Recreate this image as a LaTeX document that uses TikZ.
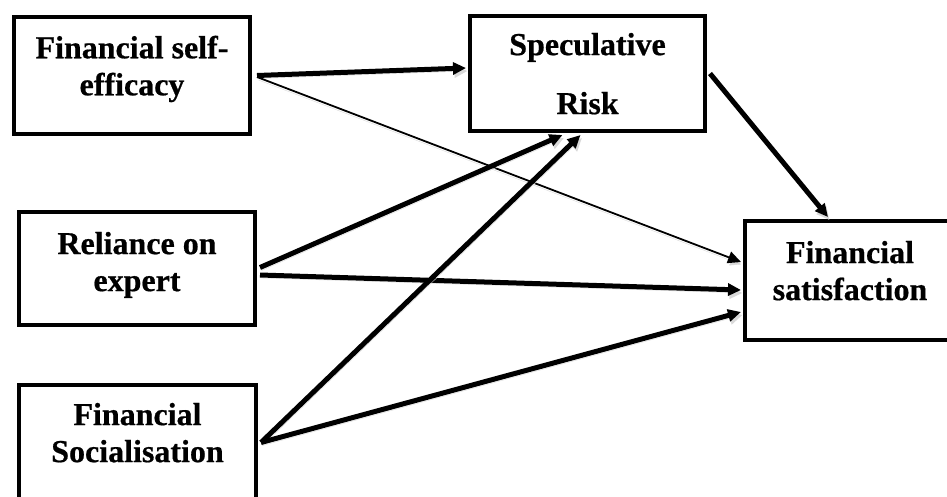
\documentclass[tikz,border=0pt]{standalone}
\usepackage{fontspec}
\setmainfont{Liberation Serif}[BoldFeatures={FakeBold=0.6}]
\usetikzlibrary{arrows.meta}

\begin{document}
\begin{tikzpicture}[x=1pt, y=-1pt,
  factor/.style={draw, line width=4pt, align=center, inner sep=0pt, text depth=20pt,
    font=\bfseries\fontsize{32}{37}\selectfont},
  link/.style={-{Triangle[length=13pt,width=12pt]}, line width=5pt,
    preaction={draw=black!15, transform canvas={shift={(1.5pt,-3pt)}}}},
  weak link/.style={link, line width=1.8pt}]
  \useasboundingbox (0,0) rectangle (947,496);
  \clip (0,0) rectangle (947,496);

  \node[factor, minimum width=236pt, minimum height=117pt] (efficacy) at (132,75.5) {Financial self-\\efficacy};
  \node[factor, minimum width=235pt, minimum height=115pt, text depth=-4pt] (risk) at (587.5,73.5) {Speculative\\[22pt]Risk};
  \node[factor, minimum width=236pt, minimum height=113pt, text depth=14pt] (reliance) at (137,268.5) {Reliance on\\expert};
  \node[factor, minimum width=210pt, minimum height=119pt] (satisf) at (850,280.5) {Financial\\satisfaction};
  \node[factor, minimum width=237pt, minimum height=115pt] (social) at (137.5,442.5) {Financial\\Socialisation};

  \draw[link] ([xshift=5pt]efficacy.east) -- ([xshift=-2pt,yshift=5.5pt]risk.west);
  \draw[weak link] ([xshift=5pt,yshift=-1.5pt]efficacy.east) -- ([xshift=-2pt,yshift=18.5pt]satisf.west);
  \draw[link] ([xshift=3pt]risk.east) -- ([xshift=-22pt,yshift=2pt]satisf.north);
  \draw[link] ([xshift=3pt,yshift=1pt]reliance.east) -- ([xshift=-25pt,yshift=-2pt]risk.south);
  \draw[link] ([xshift=3pt,yshift=-6.5pt]reliance.east) -- ([xshift=-2pt,yshift=-9.5pt]satisf.west);
  \draw[link] ([xshift=3pt]social.east) -- ([xshift=-7pt,yshift=-2pt]risk.south);
  \draw[link] ([xshift=3pt]social.east) -- ([xshift=-2pt,yshift=-31.5pt]satisf.west);
\end{tikzpicture}
\end{document}
